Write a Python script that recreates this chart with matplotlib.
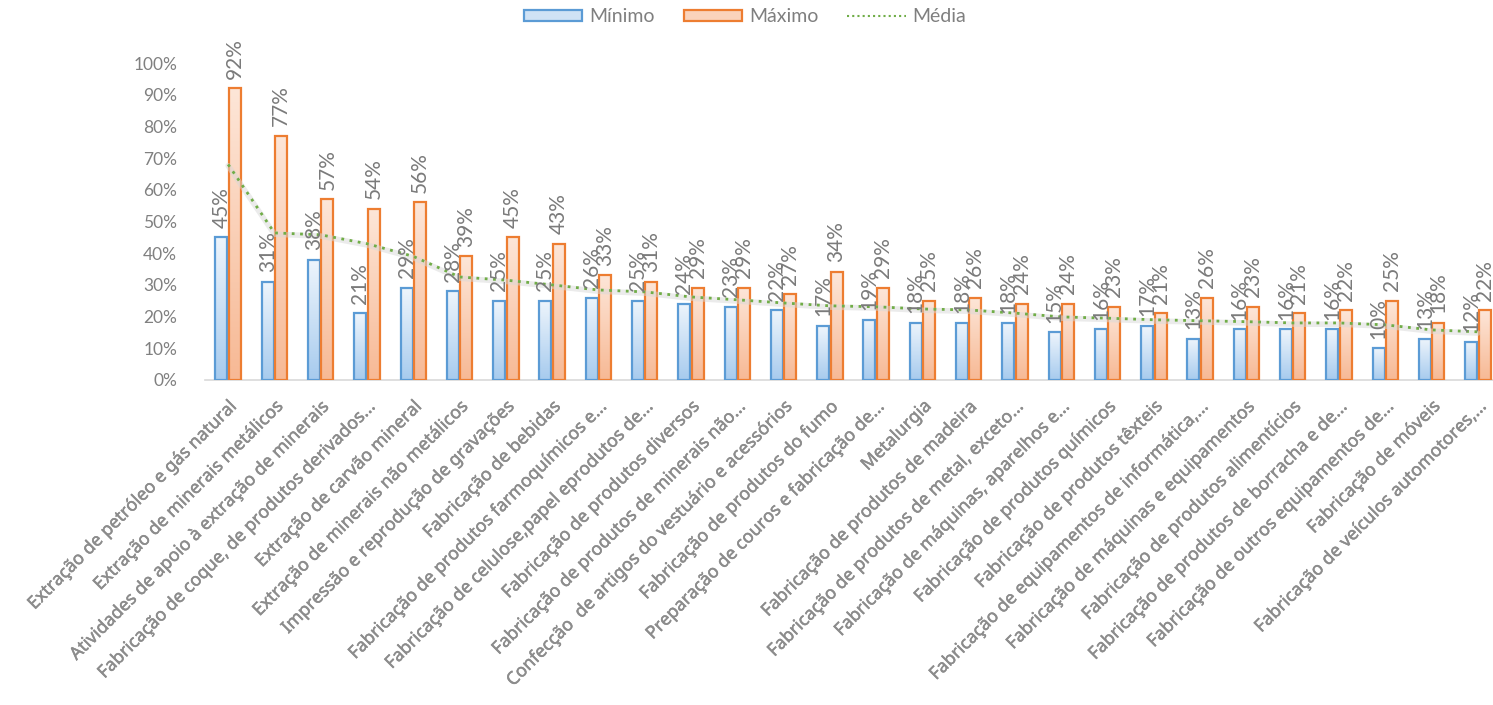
import numpy as np
import matplotlib
matplotlib.use("Agg")
import matplotlib.pyplot as plt
import matplotlib.patheffects as pe
from matplotlib.colors import LinearSegmentedColormap
from matplotlib.lines import Line2D
from matplotlib.patches import Patch

categories = [
    "Extração de petróleo e gás natural",
    "Extração de minerais metálicos",
    "Atividades de apoio à extração de minerais",
    "Fabricação de coque, de produtos derivados...",
    "Extração de carvão mineral",
    "Extração de minerais não metálicos",
    "Impressão e reprodução de gravações",
    "Fabricação de bebidas",
    "Fabricação de produtos farmoquímicos e...",
    "Fabricação de celulose,papel eprodutos de...",
    "Fabricação de produtos diversos",
    "Fabricação de produtos de minerais não...",
    "Confecção  de artigos do vestuário e acessórios",
    "Fabricação de produtos do fumo",
    "Preparação de couros e fabricação de...",
    "Metalurgia",
    "Fabricação de produtos de madeira",
    "Fabricação de produtos de metal, exceto...",
    "Fabricação de máquinas, aparelhos e...",
    "Fabricação de produtos químicos",
    "Fabricação de produtos têxteis",
    "Fabricação de equipamentos de informática,...",
    "Fabricação de máquinas e equipamentos",
    "Fabricação de produtos alimentícios",
    "Fabricação de produtos de borracha e de...",
    "Fabricação de outros equipamentos de...",
    "Fabricação de móveis",
    "Fabricação de veículos automotores,...",
]

minimo = [45, 31, 38, 21, 29, 28, 25, 25, 26, 25, 24, 23, 22, 17,
          19, 18, 18, 18, 15, 16, 17, 13, 16, 16, 16, 10, 13, 12]
maximo = [92, 77, 57, 54, 56, 39, 45, 43, 33, 31, 29, 29, 27, 34,
          29, 25, 26, 24, 24, 23, 21, 26, 23, 21, 22, 25, 18, 22]
media = [68, 46.4, 45.8, 43, 39, 32.5, 31.5, 30, 28.4, 27.8, 26.2, 25.3,
         24.3, 23.4, 23.1, 22.4, 22.1, 21.1, 19.9, 19.5, 19, 18.7, 18.4,
         18, 18, 17.4, 15.8, 15.2]

TEXT = "#808080"
BLUE_EDGE = "#5B9BD5"
ORANGE_EDGE = "#ED7D31"
GREEN = "#70AD47"

plt.rcParams["font.family"] = ["Lato", "DejaVu Sans"]

fig = plt.figure(figsize=(14.93, 7.05), dpi=100)
ax = fig.add_axes([205 / 1493, 1 - 380 / 705, 1296 / 1493, 317 / 705])

x = np.arange(len(categories))
w = 0.26
off = 0.145
min_frac = np.array(minimo) / 100
max_frac = np.array(maximo) / 100
med_frac = np.array(media) / 100

bars_min = ax.bar(x - off, min_frac, w, facecolor="none", edgecolor=BLUE_EDGE,
                  linewidth=1.6, zorder=3)
bars_max = ax.bar(x + off, max_frac, w, facecolor="none", edgecolor=ORANGE_EDGE,
                  linewidth=1.6, zorder=3)

cmap_blue = LinearSegmentedColormap.from_list("b", ["#A7CBEE", "#EEF5FC"])
cmap_orange = LinearSegmentedColormap.from_list("o", ["#F7B995", "#FDE6D8"])
grad = np.linspace(1, 0, 128).reshape(-1, 1)

for bars, cm in ((bars_min, cmap_blue), (bars_max, cmap_orange)):
    for r in bars:
        x0, y0 = r.get_x(), r.get_y()
        ax.imshow(grad, extent=[x0, x0 + r.get_width(), y0, y0 + r.get_height()],
                  aspect="auto", cmap=cm, vmin=0, vmax=1, zorder=2,
                  interpolation="bilinear")

for bars, vals in ((bars_min, minimo), (bars_max, maximo)):
    for r, v in zip(bars, vals):
        ax.annotate(f"{v}%", (r.get_x() + r.get_width() / 2, r.get_height()),
                    xytext=(0, 7), textcoords="offset points", rotation=90,
                    ha="center", va="bottom", fontsize=15, color="#7a7a7a",
                    annotation_clip=False, zorder=5)

# faint shadow beneath the average line
ax.plot(x, med_frac - 0.004, color="#d8d8d8", linewidth=4, alpha=0.5, zorder=3.5,
        solid_capstyle="round")
ax.plot(x, med_frac, color=GREEN, linewidth=2, linestyle=(0, (1, 2)), zorder=4)

ax.set_xlim(-0.5, len(categories) - 0.5)
ax.set_ylim(0, 1.0)
yt = np.arange(0, 1.01, 0.1)
ax.set_yticks(yt)
ax.set_yticklabels([f"{int(round(t * 100))}%" for t in yt])
ax.tick_params(axis="y", length=0, pad=20, labelsize=12.5, labelcolor=TEXT)
ax.tick_params(axis="x", length=0, pad=12)
ax.set_xticks(x)
ax.set_xticklabels(categories, rotation=45, ha="right", rotation_mode="anchor",
                   color="#8c8c8c")
for lbl in ax.get_xticklabels():
    lbl.set_fontfamily(["Noto Sans", "DejaVu Sans"])
    lbl.set_fontsize(12.8)
    lbl.set_path_effects([pe.withStroke(linewidth=0.35, foreground="#8c8c8c")])

for s in ("top", "right", "left"):
    ax.spines[s].set_visible(False)
ax.spines["bottom"].set_color("#D9D9D9")
ax.spines["bottom"].set_linewidth(1.2)

handles = [
    Patch(facecolor="#CFE2F5", edgecolor=BLUE_EDGE, linewidth=1.6, label="Mínimo"),
    Patch(facecolor="#FAD3BC", edgecolor=ORANGE_EDGE, linewidth=1.6, label="Máximo"),
    Line2D([], [], color=GREEN, linewidth=1.5, linestyle=(0, (1, 1.5)), label="Média"),
]
fig.legend(handles=handles, loc="center", bbox_to_anchor=(745 / 1493, 1 - 17 / 705),
           ncol=3, frameon=False, fontsize=14, labelcolor="#7f7f7f",
           handlelength=3.0, handleheight=0.55, handletextpad=0.35,
           columnspacing=1.5)

fig.savefig("out.png", dpi=100)
